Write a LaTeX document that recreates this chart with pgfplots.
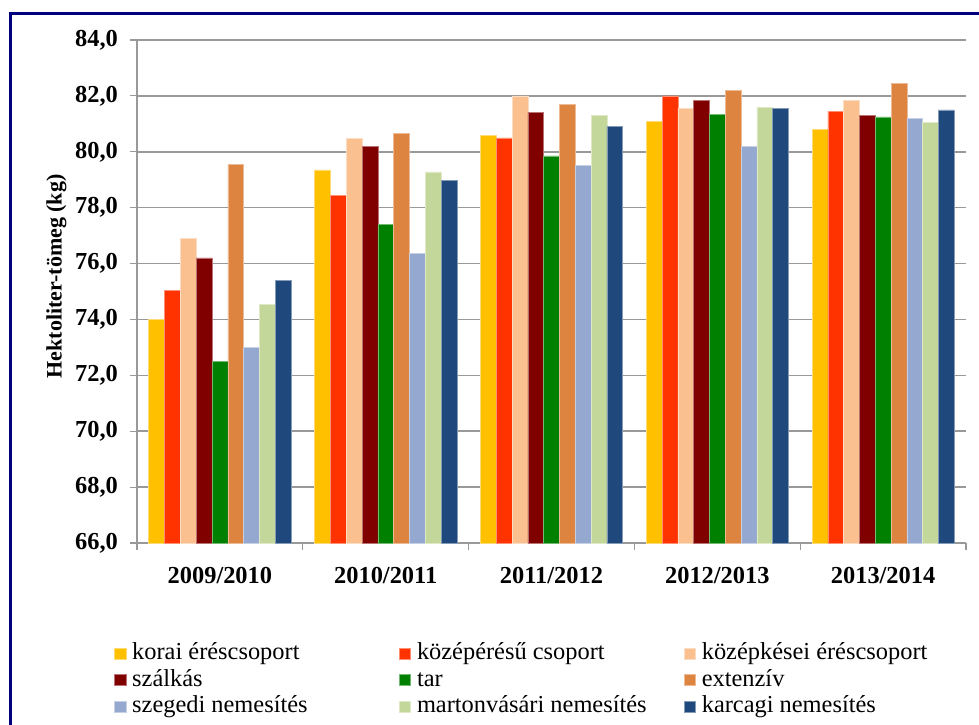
\documentclass[border=0pt]{standalone}
\usepackage{pgfplots}
\pgfplotsset{compat=1.18}
\usepackage{fontspec}
\setmainfont{Liberation Serif}

\definecolor{cKorai}{HTML}{FFC000}
\definecolor{cKozep}{HTML}{FF3300}
\definecolor{cKozepk}{HTML}{FAC090}
\definecolor{cSzalk}{HTML}{800000}
\definecolor{cTar}{HTML}{008000}
\definecolor{cExt}{HTML}{DD8441}
\definecolor{cSzeg}{HTML}{95A9D0}
\definecolor{cMarton}{HTML}{C4D79B}
\definecolor{cKarc}{HTML}{1F497D}
\definecolor{frameblue}{HTML}{000080}
\definecolor{gridgray}{HTML}{999999}

\pgfplotsset{
  sqlegend/.style={legend image code/.code={\fill[##1] (0pt,-2.8pt) rectangle (5.6pt,2.8pt);}},
  barstyle/.style={fill=#1, draw=#1!55!white, line width=0.3pt, sqlegend},
}

% hectolitre mass by group and season
\pgfplotstableread{
x korai kozep kozepk szalkas tar ext szeged marton karcag
0 74.00 75.05 76.90 76.20 72.50 79.55 73.00 74.55 75.40
1 79.35 78.45 80.48 80.20 77.40 80.65 76.35 79.28 78.98
2 80.60 80.50 82.00 81.40 79.85 81.70 79.50 81.30 80.90
3 81.10 82.00 81.55 81.85 81.35 82.20 80.20 81.60 81.55
4 80.80 81.45 81.85 81.30 81.25 82.45 81.20 81.05 81.50
}\datatable

\begin{document}
\begin{tikzpicture}
\useasboundingbox (0pt,0pt) rectangle (489.5pt,-362pt);
\fill[white] (0pt,0pt) rectangle (489.5pt,-362pt);
\draw[frameblue, line width=1.5pt] (5pt,-380pt) -- (5pt,-6.5pt) -- (500pt,-6.5pt);

\begin{axis}[
  at={(68.5pt,-271.5pt)}, anchor=south west,
  scale only axis, width=414.5pt, height=251.5pt,
  ybar=0pt, bar width=7.9pt,
  xmin=-0.5, xmax=4.5, ymin=66, ymax=84,
  xtick={0,...,4},
  xticklabels={2009/2010,2010/2011,2011/2012,2012/2013,2013/2014},
  minor xtick={-0.5,0.5,...,4.5},
  ytick={66,68,...,84},
  tick align=outside, major tick length=3.5pt, minor tick length=3.5pt,
  xtick style={draw=none},
  minor x tick style={draw=gridgray, line width=0.6pt},
  ytick style={draw=gridgray, line width=0.6pt},
  axis x line*=bottom, axis y line*=left,
  axis line style={draw=gridgray, line width=0.6pt, -},
  ymajorgrids, grid style={draw=gridgray, line width=0.8pt},
  /pgf/number format/.cd, fixed, fixed zerofill, precision=1, use comma, assume math mode=true,
  /pgfplots/.cd,
  ticklabel style={font=\fontsize{12.2}{14}\selectfont\bfseries},
  yticklabel style={xshift=-2.5pt},
  xticklabel style={yshift=-5pt},
  ylabel={\fontsize{11}{13}\selectfont\bfseries Hektoliter-tömeg (kg)},
  ylabel style={at={(axis description cs:-0.0845,0.53)}, anchor=south, inner sep=0pt},
  legend columns=3,
  legend cell align=left,
  legend style={draw=none, fill=none, inner sep=0pt, at={(-11.5pt,-48.5pt)}, anchor=north west,
    font=\fontsize{12.2}{14}\selectfont, row sep=0pt,
    nodes={inner xsep=3pt, inner ysep=0.75pt, text height=9pt, text depth=2.7pt}},
]
\addplot[barstyle=cKorai]  table[x=x,y=korai]{\datatable};
\addlegendentry{\makebox[130.5pt][l]{korai éréscsoport}}
\addplot[barstyle=cKozep]  table[x=x,y=kozep]{\datatable};
\addlegendentry{\makebox[130.5pt][l]{középérésű csoport}}
\addplot[barstyle=cKozepk] table[x=x,y=kozepk]{\datatable};
\addlegendentry{\makebox[130.5pt][l]{középkései éréscsoport}}
\addplot[barstyle=cSzalk]  table[x=x,y=szalkas]{\datatable};
\addlegendentry{szálkás}
\addplot[barstyle=cTar]    table[x=x,y=tar]{\datatable};
\addlegendentry{tar}
\addplot[barstyle=cExt]    table[x=x,y=ext]{\datatable};
\addlegendentry{extenzív}
\addplot[barstyle=cSzeg]   table[x=x,y=szeged]{\datatable};
\addlegendentry{szegedi nemesítés}
\addplot[barstyle=cMarton] table[x=x,y=marton]{\datatable};
\addlegendentry{martonvásári nemesítés}
\addplot[barstyle=cKarc]   table[x=x,y=karcag]{\datatable};
\addlegendentry{karcagi nemesítés}
\end{axis}
\end{tikzpicture}
\end{document}
